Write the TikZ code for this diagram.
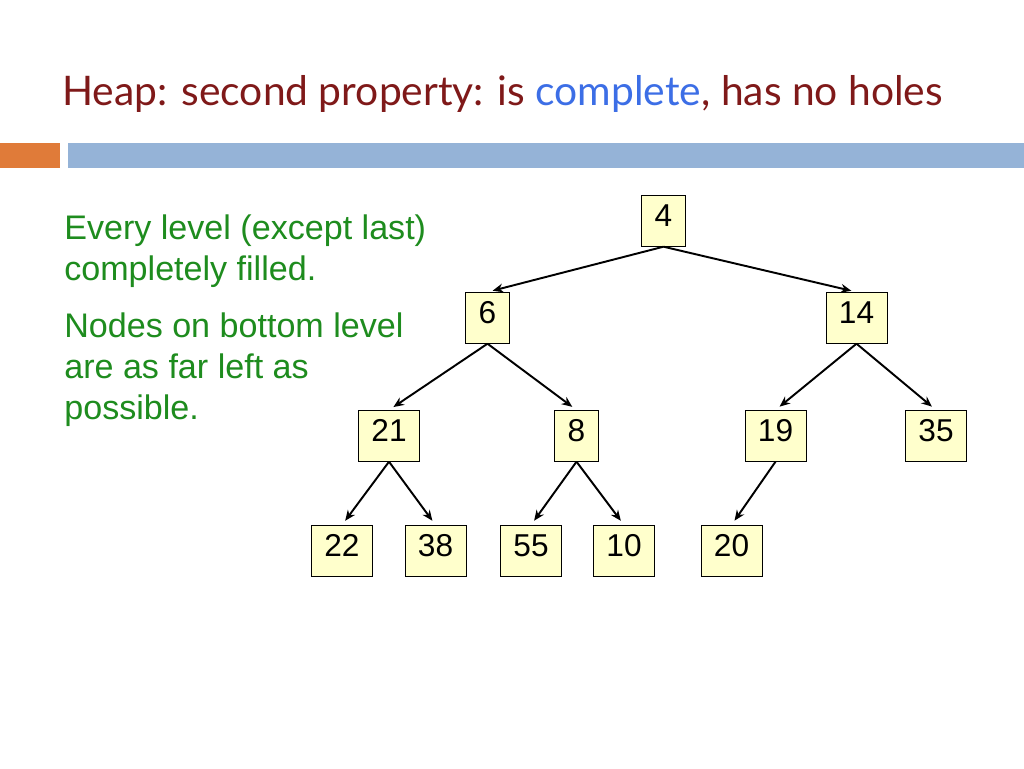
\documentclass[tikz,border=0pt]{standalone}
\usepackage{fontspec}
\setmainfont{Liberation Sans}
\newfontfamily\titlefont{Lato}
\usetikzlibrary{arrows.meta, positioning}
\definecolor{titlered}{HTML}{7F1919}
\definecolor{titleblue}{HTML}{3C6EE6}
\definecolor{barorange}{HTML}{E07B39}
\definecolor{barblue}{HTML}{95B3D7}
\definecolor{textgreen}{HTML}{1E8C1E}
\definecolor{keyfill}{HTML}{FFFFCC}
\tikzset{
    key/.style={draw=black, fill=keyfill, anchor=north, font=\fontsize{18}{20}\selectfont,
        text height=0.62cm, text depth=0.40cm, inner ysep=0pt, inner xsep=0.26cm},
    edge/.style={line width=1.1pt, -{Stealth[length=6pt, width=5pt]}, shorten >=3pt},
    note/.style={anchor=north west, inner sep=0pt, align=left, text=textgreen,
        font=\fontsize{19.4}{23.5}\selectfont}
}
\begin{document}
\begin{tikzpicture}[x=0.02cm, y=-0.02cm]
    \useasboundingbox (0,0) rectangle (1024,768);
    \fill[white] (0,0) rectangle (1024,768);

    % Titre
    \node[anchor=base west, inner sep=0pt, text=titlered, font=\titlefont\fontsize{23.2}{27}\selectfont] (title) at (62,105)
        {Heap: second property: is \textcolor{titleblue}{complete}, has no holes};

    % Bandeau
    \fill[barorange] (0,143) rectangle (60,168);
    \fill[barblue] (68,143) rectangle (1024,168);

    % Texte
    \node[note] (txtA) at (64,214) {Every level (except last)\\completely filled.};
    \node[note] (txtB) at (64,312) {Nodes on bottom level\\are as far left as\\possible.};

    % Noeuds
    \node[key] (n4) at (663.5,195) {4};
    \node[key] (n6) at (487.5,292) {6};
    \node[key] (n14) at (856.5,292) {14};
    \node[key] (n21) at (389,410) {21};
    \node[key] (n8) at (576.5,410) {8};
    \node[key] (n19) at (775.5,410) {19};
    \node[key] (n35) at (936,410) {35};
    \node[key] (n22) at (342,525) {22};
    \node[key] (n38) at (435.5,525) {38};
    \node[key] (n55) at (531,525) {55};
    \node[key] (n10) at (624,525) {10};
    \node[key] (n20) at (731.5,525) {20};

    % Aretes
    \foreach \a/\b in {n4/n6, n4/n14, n6/n21, n6/n8, n14/n19, n14/n35,
                       n21/n22, n21/n38, n8/n55, n8/n10, n19/n20} {
        \draw[edge] (\a.south) -- (\b.north);
    }
\end{tikzpicture}
\end{document}
